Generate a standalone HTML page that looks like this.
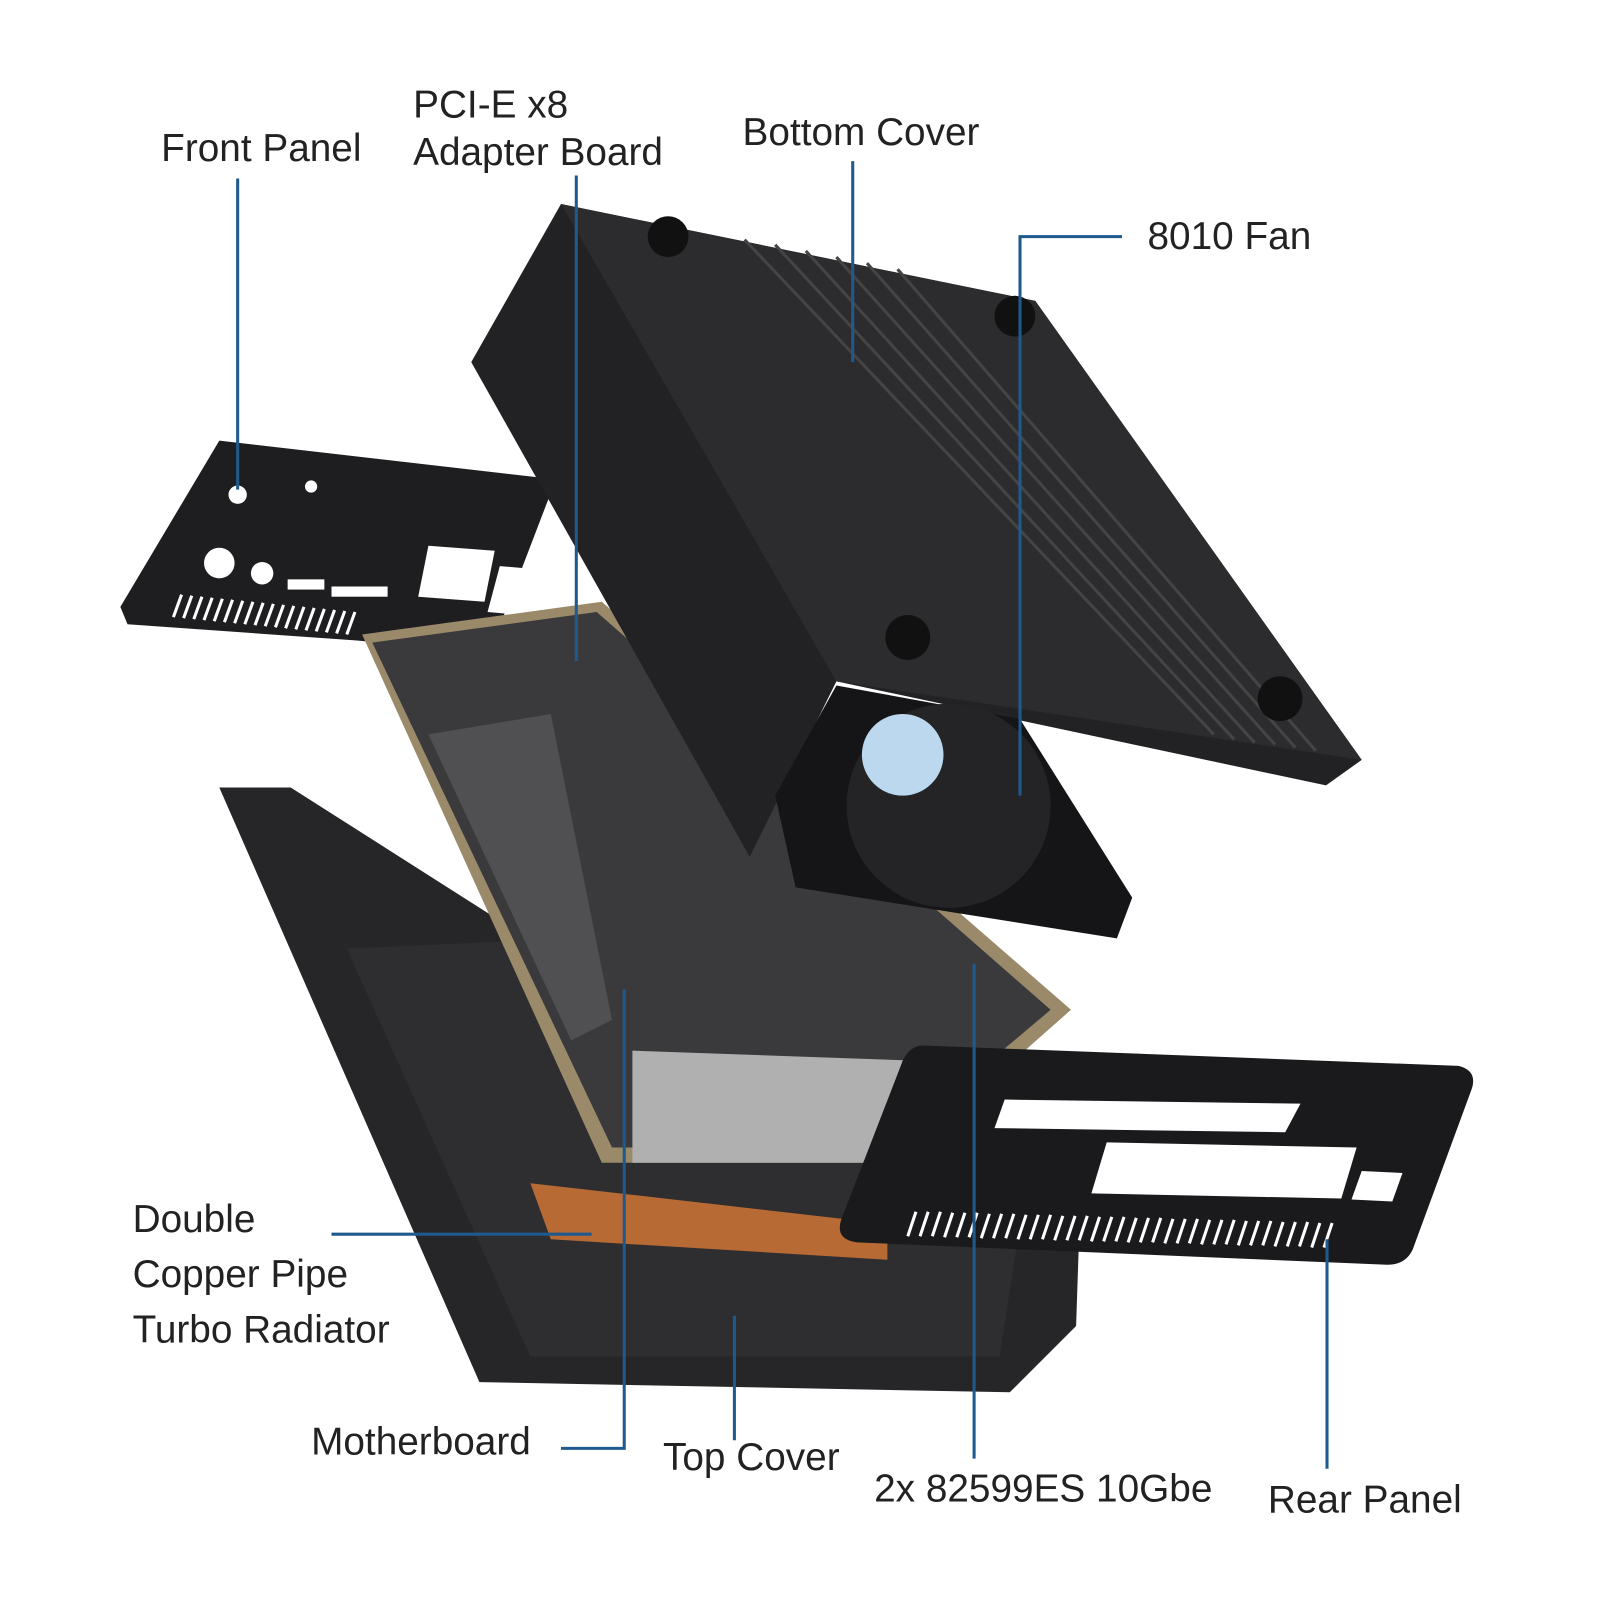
<!DOCTYPE html>
<html><head><meta charset="utf-8"><style>
html,body{margin:0;padding:0;background:#fff;}
svg{display:block;}
text{font-family:"Liberation Sans",sans-serif;font-size:38px;fill:#222;}
</style></head><body>
<svg width="1600" height="1600" viewBox="0 0 1600 1600" xmlns="http://www.w3.org/2000/svg">
<rect width="1600" height="1600" fill="#fff"/>
<g transform="scale(1.02)">
<!-- front panel -->
<polygon points="215,432 545,470 480,640 350,628 125,612 118,595" fill="#1e1e20"/>
<g fill="#fff">
<circle cx="233" cy="485" r="9"/><circle cx="305" cy="477" r="6"/>
<circle cx="215" cy="552" r="15"/><circle cx="257" cy="562" r="11"/>
<rect x="282" y="568" width="36" height="10"/><rect x="325" y="575" width="55" height="10"/>
<polygon points="420,535 485,540 475,590 410,585"/><polygon points="490,555 548,560 535,605 478,600"/>
</g>
<g stroke="#fff" stroke-width="3">
<path d="M170,605 l8,-22 M180,606 l8,-22 M190,607 l8,-22 M200,608 l8,-22 M210,609 l8,-22 M220,610 l8,-22 M230,611 l8,-22 M240,612 l8,-22 M250,613 l8,-22 M260,614 l8,-22 M270,615 l8,-22 M280,616 l8,-22 M290,617 l8,-22 M300,618 l8,-22 M310,619 l8,-22 M320,620 l8,-22 M330,621 l8,-22 M340,622 l8,-22"/>
</g>
<!-- top cover tray -->
<polygon points="215,772 285,772 580,960 1060,1150 1055,1300 990,1365 470,1355" fill="#262628"/>
<polygon points="340,930 560,920 1000,1200 980,1330 520,1330" fill="#2e2e30"/>
<!-- motherboard -->
<polygon points="355,622 590,590 1050,990 880,1140 590,1140" fill="#9a8a6a"/>
<polygon points="365,630 585,600 1030,990 870,1125 600,1125" fill="#3a3a3c"/>
<polygon points="420,720 540,700 600,1000 560,1020" fill="#505052"/>
<polygon points="620,1030 900,1040 890,1140 620,1140" fill="#b0b0b0"/>
<polygon points="520,1160 870,1200 870,1235 540,1215" fill="#b86a35"/>
<!-- rear panel -->
<path d="M905,1025 L1430,1045 Q1450,1050 1442,1070 L1385,1225 Q1378,1240 1360,1240 L840,1218 Q818,1215 825,1195 L885,1040 Q892,1025 905,1025Z" fill="#1a1a1c"/>
<g fill="#fff">
<polygon points="985,1078 1275,1082 1260,1110 975,1106"/>
<polygon points="1085,1120 1330,1125 1315,1175 1070,1170"/>
<polygon points="1335,1148 1375,1150 1365,1178 1325,1176"/>
</g>
<g stroke="#fff" stroke-width="3">
<path d="M890,1212 l8,-24 M902,1212 l8,-24 M914,1212 l8,-24 M926,1213 l8,-24 M938,1213 l8,-24 M950,1213 l8,-24 M962,1214 l8,-24 M974,1214 l8,-24 M986,1214 l8,-24 M998,1215 l8,-24 M1010,1215 l8,-24 M1022,1215 l8,-24 M1034,1216 l8,-24 M1046,1216 l8,-24 M1058,1216 l8,-24 M1070,1217 l8,-24 M1082,1217 l8,-24 M1094,1217 l8,-24 M1106,1218 l8,-24 M1118,1218 l8,-24 M1130,1218 l8,-24 M1142,1219 l8,-24 M1154,1219 l8,-24 M1166,1219 l8,-24 M1178,1220 l8,-24 M1190,1220 l8,-24 M1202,1220 l8,-24 M1214,1221 l8,-24 M1226,1221 l8,-24 M1238,1221 l8,-24 M1250,1222 l8,-24 M1262,1222 l8,-24 M1274,1222 l8,-24 M1286,1223 l8,-24 M1298,1223 l8,-24"/>
</g>
<!-- bottom cover box -->
<polygon points="462,355 550,200 1015,295 1335,745 1300,770 820,668 735,840" fill="#222224"/>
<polygon points="550,200 1015,295 1335,745 820,668" fill="#2c2c2e"/>
<g stroke="#444" stroke-width="3">
<path d="M730,235 L1190,720 M760,240 L1210,725 M790,246 L1230,728 M820,252 L1250,730 M850,258 L1270,733 M880,264 L1290,736"/>
</g>
<g fill="#111"><circle cx="655" cy="232" r="20"/><circle cx="995" cy="310" r="20"/><circle cx="890" cy="625" r="22"/><circle cx="1255" cy="685" r="22"/></g>
<!-- fan -->
<polygon points="820,672 1000,705 1110,880 1095,920 780,870 760,780" fill="#151517"/>
<circle cx="930" cy="790" r="100" fill="#242426"/>
<circle cx="885" cy="740" r="40" fill="#bcd8ee"/>
<!-- leader lines -->
<g stroke="#1f5a8f" stroke-width="3" fill="none">
<path d="M233,175 V480"/><path d="M565,172 V648"/><path d="M836,158 V355"/>
<path d="M1100,232 H1000 V780"/><path d="M325,1210 H580"/>
<path d="M550,1420 H612 V970"/><path d="M720,1290 V1412"/>
<path d="M955,945 V1430"/><path d="M1301,1215 V1440"/>
</g>
<!-- labels -->
<text x="158" y="158">Front Panel</text>
<text x="405" y="115">PCI-E x8</text>
<text x="405" y="162">Adapter Board</text>
<text x="728" y="142">Bottom Cover</text>
<text x="1125" y="244">8010 Fan</text>
<text x="130" y="1208">Double</text>
<text x="130" y="1262">Copper Pipe</text>
<text x="130" y="1316">Turbo Radiator</text>
<text x="305" y="1426">Motherboard</text>
<text x="650" y="1441">Top Cover</text>
<text x="857" y="1472">2x 82599ES 10Gbe</text>
<text x="1243" y="1483">Rear Panel</text>
</g>
</svg>
</body></html>
